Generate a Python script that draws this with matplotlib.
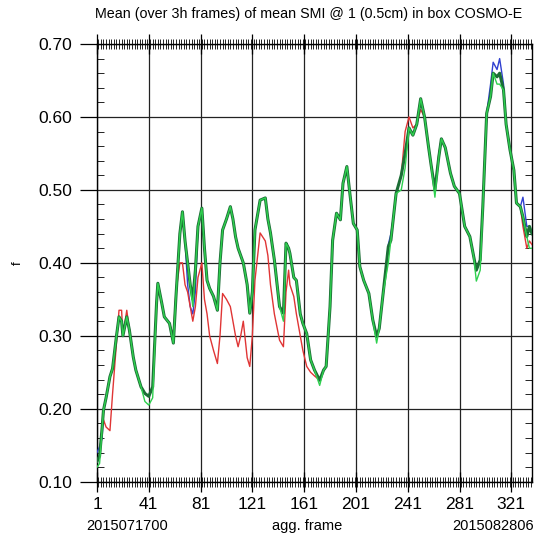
import matplotlib
matplotlib.use('Agg')
import matplotlib.pyplot as plt
from matplotlib.ticker import MultipleLocator

plt.rcParams['font.family'] = ['Liberation Sans', 'DejaVu Sans']

# frames (agg. frame) y valores de la serie principal (verde oscuro)
frames = [1, 3, 5, 6, 8, 11, 13, 16, 18, 20, 21, 24, 26, 29, 31, 35, 38, 41, 44, 47,
          48, 51, 53, 57, 60, 62, 65, 67, 69, 71, 73, 75, 77, 79, 82, 84, 86, 88, 91, 94,
          96, 98, 101, 104, 106, 108, 110, 112, 114, 117, 119, 121, 123, 127, 131, 133, 135, 138, 142, 145,
          147, 149, 150, 153, 155, 158, 160, 163, 166, 169, 173, 176, 178, 181, 183, 186, 189, 191, 194, 196,
          199, 202, 204, 207, 211, 214, 217, 219, 222, 226, 228, 230, 232, 236, 239, 242, 245, 248, 251, 254,
          257, 259, 262, 265, 267, 270, 274, 277, 281, 285, 289, 292, 294, 297, 299, 302, 305, 307, 310, 312,
          315, 317, 320, 323, 325, 328, 330, 333, 335, 337]
main = [0.128, 0.135, 0.175, 0.198, 0.215, 0.244, 0.255, 0.299, 0.326, 0.32, 0.30, 0.326, 0.308, 0.271, 0.253, 0.23, 0.221, 0.217, 0.23, 0.345,
        0.372, 0.345, 0.326, 0.317, 0.29, 0.354, 0.44, 0.47, 0.43, 0.40, 0.37, 0.35, 0.39, 0.45, 0.475, 0.42, 0.376, 0.365, 0.354, 0.335,
        0.40, 0.445, 0.46, 0.477, 0.46, 0.436, 0.42, 0.41, 0.40, 0.37, 0.331, 0.36, 0.445, 0.486, 0.489, 0.46, 0.441, 0.404, 0.34, 0.331,
        0.427, 0.42, 0.413, 0.38, 0.376, 0.33, 0.317, 0.303, 0.267, 0.253, 0.239, 0.253, 0.258, 0.34, 0.431, 0.468, 0.459, 0.509, 0.532, 0.50,
        0.454, 0.445, 0.395, 0.376, 0.358, 0.322, 0.299, 0.31, 0.358, 0.422, 0.431, 0.463, 0.495, 0.52, 0.55, 0.585, 0.575, 0.59, 0.625, 0.60,
        0.56, 0.535, 0.50, 0.545, 0.57, 0.558, 0.523, 0.505, 0.495, 0.45, 0.436, 0.408, 0.39, 0.404, 0.477, 0.605, 0.628, 0.66, 0.655, 0.66,
        0.637, 0.59, 0.555, 0.527, 0.482, 0.477, 0.463, 0.436, 0.45, 0.44]

# las otras series siguen a la principal salvo en estos frames
rojo_dif = {6: 0.185, 8: 0.175, 11: 0.17, 13: 0.22, 16: 0.29, 18: 0.335, 20: 0.335, 24: 0.335,
            60: 0.30, 62: 0.36, 65: 0.40, 67: 0.40, 69: 0.37, 71: 0.36, 73: 0.34, 75: 0.32, 77: 0.34,
            79: 0.38, 82: 0.40, 84: 0.35, 86: 0.33, 88: 0.30, 91: 0.28, 94: 0.262, 96: 0.30, 98: 0.358,
            101: 0.35, 104: 0.34, 106: 0.32, 108: 0.30, 110: 0.285, 112: 0.30, 114: 0.32, 117: 0.27,
            119: 0.258, 121: 0.30, 123: 0.376, 127: 0.441, 131: 0.43, 133: 0.41, 135: 0.37, 138: 0.33,
            142: 0.294, 145: 0.285, 147: 0.36, 149: 0.39, 150: 0.37, 153: 0.354, 155: 0.33, 158: 0.30,
            160: 0.28, 163: 0.258, 166: 0.25, 169: 0.245,
            239: 0.58, 242: 0.60, 245: 0.585, 251: 0.61, 265: 0.55, 330: 0.45, 333: 0.42, 335: 0.43, 337: 0.425}
azul_dif = {1: 0.14, 3: 0.148, 5: 0.16, 71: 0.37, 73: 0.34, 75: 0.33, 77: 0.36, 226: 0.425, 228: 0.44,
            305: 0.645, 307: 0.675, 310: 0.665, 312: 0.68, 315: 0.645, 330: 0.49, 333: 0.45}
lima_dif = {1: 0.12, 3: 0.125, 38: 0.21, 41: 0.205, 44: 0.215, 75: 0.34, 145: 0.32, 173: 0.232, 217: 0.29,
            226: 0.40, 236: 0.50, 239: 0.53, 262: 0.49, 294: 0.375, 297: 0.39, 310: 0.645, 312: 0.645,
            335: 0.42, 337: 0.42}

xticks = [1, 41, 81, 121, 161, 201, 241, 281, 321]
yticks = [0.10, 0.20, 0.30, 0.40, 0.50, 0.60, 0.70]


def serie(dif):
    return [dif.get(f, v) for f, v in zip(frames, main)]


fig = plt.figure(figsize=(5.37, 5.45), dpi=100)
ax = fig.add_axes([97 / 537, 1 - 481.7 / 545, 435 / 537, 437.7 / 545])

ax.plot(frames, serie(azul_dif), color='#3040d0', lw=1.0, zorder=3)
ax.plot(frames, serie(rojo_dif), color='#e03535', lw=1.0, zorder=3)
ax.plot(frames, main, color='#1c6e36', lw=2.2, zorder=4)
ax.plot(frames, serie(lima_dif), color='#2ed04e', lw=1.0, zorder=5)

ax.set_xlim(1, 337)
ax.set_ylim(0.10, 0.70)
ax.set_xticks(xticks)
ax.set_xticklabels([str(t) for t in xticks])
ax.set_yticks(yticks)
ax.set_yticklabels(['%.2f' % t for t in yticks])
ax.xaxis.set_minor_locator(MultipleLocator(2))
ax.yaxis.set_minor_locator(MultipleLocator(0.02))
ax.grid(True, which='major', color='#222222', lw=0.9)

ax.tick_params(axis='x', which='major', direction='inout', length=14, width=0.9,
               top=True, labelsize=12.5, pad=4)
ax.tick_params(axis='x', which='minor', direction='inout', length=7, width=0.6, top=True)
ax.tick_params(axis='y', which='major', direction='out', length=12, width=0.9,
               labelsize=12.5, pad=6)
ax.tick_params(axis='y', which='minor', direction='in', length=5, width=0.6, right=True)
for s in ax.spines.values():
    s.set_linewidth(1.0)

fig.text(18 / 537, 1 - 263 / 545, 'f', fontsize=9.5, rotation=90, ha='center', va='center')
fig.text(95 / 537, 1 - 14 / 545, 'Mean (over 3h frames) of mean SMI @ 1 (0.5cm) in box COSMO-E',
         fontsize=10.3, ha='left', va='center')
fig.text(86 / 537, 1 - 526 / 545, '2015071700', fontsize=10.5, ha='left', va='center')
fig.text(307 / 537, 1 - 526 / 545, 'agg. frame', fontsize=10.5, ha='center', va='center')
fig.text(452 / 537, 1 - 526 / 545, '2015082806', fontsize=10.5, ha='left', va='center')

fig.savefig('out.png', dpi=100)
